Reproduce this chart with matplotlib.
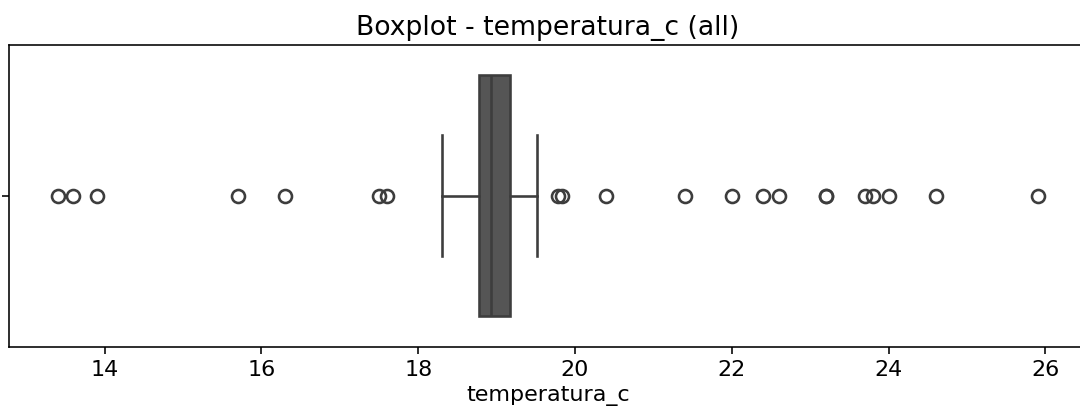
import numpy as np
import matplotlib
matplotlib.use('Agg')
import matplotlib.pyplot as plt

# estadisticos
q1 = 18.77
mediana = 18.93
q3 = 19.17
bigote_min = 18.30
bigote_max = 19.51
outliers = [13.40, 13.60, 13.90, 15.70, 16.30, 17.50, 17.60, 19.78, 19.83,
            20.40, 21.40, 22.00, 22.40, 22.60, 23.20, 23.20, 23.70, 23.80,
            24.00, 24.60, 25.90]

stats = [{
    'med': mediana, 'q1': q1, 'q3': q3,
    'whislo': bigote_min, 'whishi': bigote_max,
    'fliers': np.array(outliers),
}]

plt.rcParams['font.size'] = 11.1

fig = plt.figure(figsize=(7.5, 418 / 144), dpi=144)
ax = fig.add_axes([9 / 1080, 1 - 346.5 / 418, 1078 / 1080, 301.5 / 418])

gris = '#3d3d3d'
ax.bxp(stats, positions=[0], widths=0.8, vert=False, patch_artist=True,
       boxprops=dict(facecolor='#555555', edgecolor=gris, linewidth=1.3),
       medianprops=dict(color=gris, linewidth=1.3),
       whiskerprops=dict(color=gris, linewidth=1.3),
       capprops=dict(color=gris, linewidth=1.3),
       flierprops=dict(marker='o', markerfacecolor='none', markeredgecolor=gris,
                       markersize=6.5, markeredgewidth=1.3),
       capwidths=0.4)

ax.set_xlim(12.78, 26.53)
ax.set_ylim(0.5, -0.5)
ax.set_yticks([0])
ax.set_yticklabels([''])
ax.set_xticks([14, 16, 18, 20, 22, 24, 26])
ax.tick_params(labelsize=11.1)
ax.set_xlabel('temperatura_c', labelpad=3)
ax.set_title('Boxplot - temperatura_c (all)', fontsize=13.3, pad=5)

fig.savefig('out.png', dpi=144)
